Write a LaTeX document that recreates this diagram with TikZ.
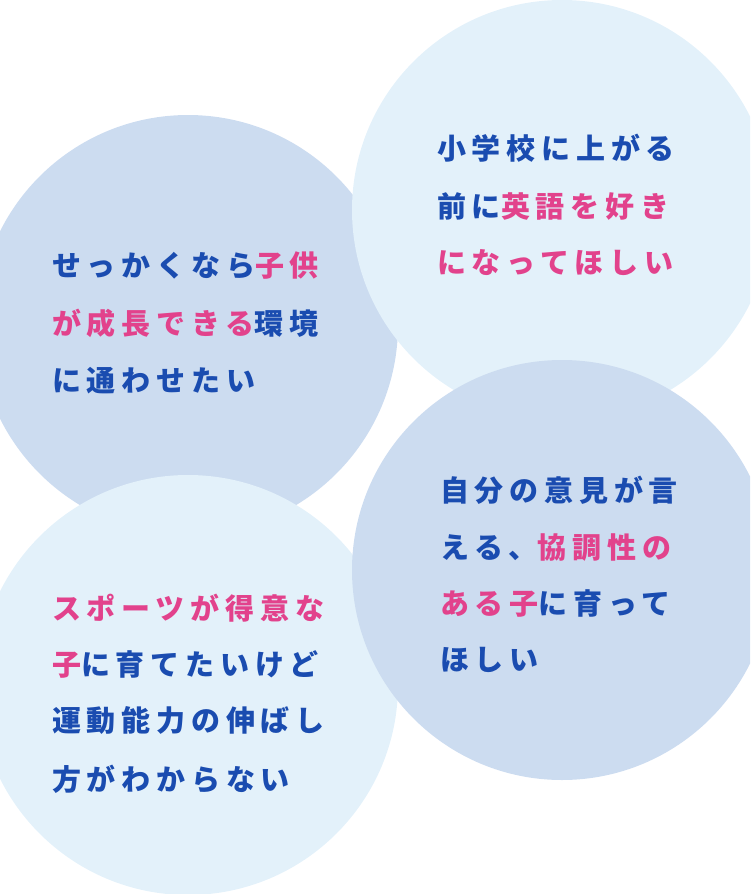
\documentclass[tikz,border=0pt]{standalone}
\usepackage{fontspec}
\newfontfamily\jp{Noto Sans CJK JP}[LetterSpace=20]
\definecolor{light}{HTML}{E3F1FA}
\definecolor{dark}{HTML}{CCDCF0}
\definecolor{navy}{HTML}{1A4CB0}
\definecolor{pinkc}{HTML}{E2428C}
\begin{document}
\begin{tikzpicture}[x=1pt,y=-1pt,
  txt/.style={anchor=west,inner sep=0pt,font=\jp\bfseries\fontsize{29}{32}\selectfont,text=navy}]
\useasboundingbox (0,0) rectangle (750,894);
\begin{scope}
\clip (0,0) rectangle (750,894);
\fill[dark] (188,325) circle (210);
\fill[light] (562,210) circle (210);
\fill[light] (188,685) circle (210);
\fill[dark] (562,570) circle (210);
\end{scope}
\node[txt] (a1) at (437,148) {小学校に上がる};
\node[txt] (a2) at (437,207) {前に\textcolor{pinkc}{英語を好き}};
\node[txt] (a3) at (437,263) {\textcolor{pinkc}{になってほしい}};
\node[txt] (b1) at (52,266) {せっかくなら\textcolor{pinkc}{子供}};
\node[txt] (b2) at (52,323) {\textcolor{pinkc}{が成長できる}環境};
\node[txt] (b3) at (52,381) {に通わせたい};
\node[txt] (c1) at (440,490) {自分の意見が言};
\node[txt] (c2) at (440,548) {える、\textcolor{pinkc}{協調性の}};
\node[txt] (c3) at (440,604) {\textcolor{pinkc}{ある子}に育って};
\node[txt] (c4) at (440,660) {ほしい};
\node[txt] (d1) at (52,608) {\textcolor{pinkc}{スポーツが得意な}};
\node[txt] (d2) at (52,664) {\textcolor{pinkc}{子}に育てたいけど};
\node[txt] (d3) at (52,720) {運動能力の伸ばし};
\node[txt] (d4) at (52,779) {方がわからない};
\end{tikzpicture}
\end{document}
